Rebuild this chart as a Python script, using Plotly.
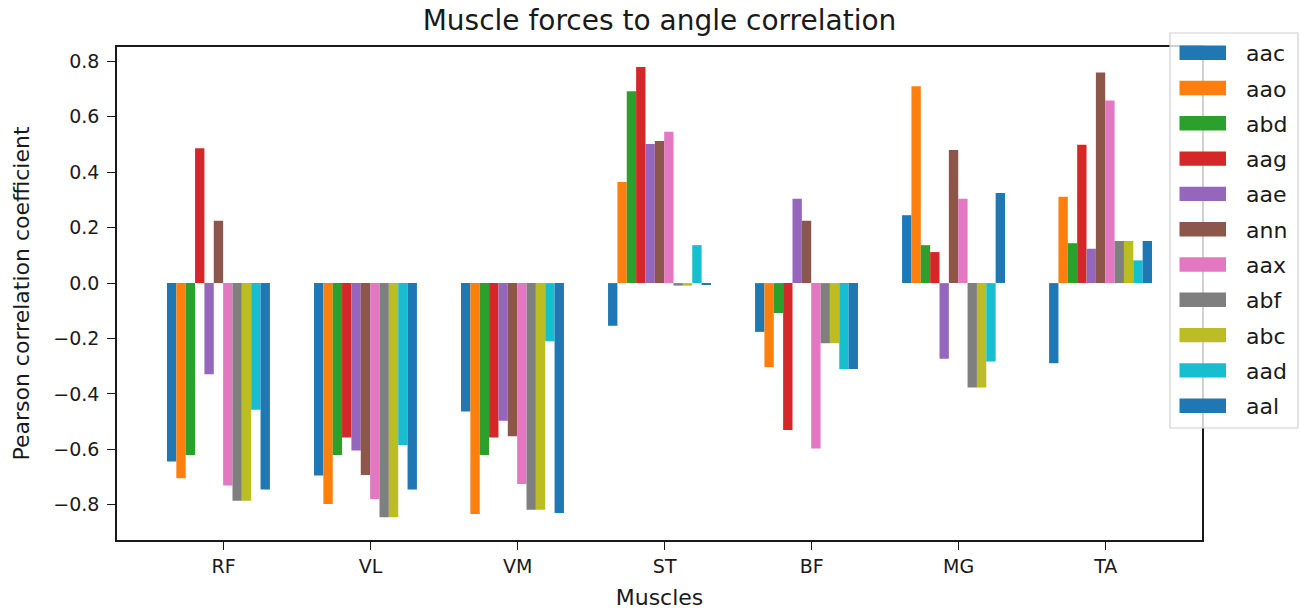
import numpy as np
import plotly.graph_objects as go

# ---------------- data ----------------
muscles = ["RF", "VL", "VM", "ST", "BF", "MG", "TA"]
series_names = ["aac", "aao", "abd", "aag", "aae", "ann", "aax", "abf", "abc", "aad", "aal"]

aac = [-0.644, -0.694, -0.463, -0.154, -0.176, 0.245, -0.289]
aao = [-0.704, -0.797, -0.833, 0.365, -0.303, 0.710, 0.312]
abd = [-0.620, -0.620, -0.620, 0.692, -0.108, 0.137, 0.144]
aag = [0.487, -0.557, -0.557, 0.780, -0.530, 0.112, 0.499]
aae = [-0.329, -0.604, -0.497, 0.502, 0.304, -0.273, 0.124]
ann = [0.225, -0.692, -0.553, 0.513, 0.225, 0.480, 0.760]
aax = [-0.730, -0.779, -0.725, 0.546, -0.597, 0.304, 0.659]
abf = [-0.785, -0.845, -0.818, -0.009, -0.217, -0.377, 0.152]
abc = [-0.785, -0.845, -0.818, -0.009, -0.217, -0.377, 0.152]
aad = [-0.457, -0.584, -0.210, 0.137, -0.310, -0.283, 0.082]
aal = [-0.745, -0.745, -0.830, -0.005, -0.310, 0.325, 0.152]

series_values = [aac, aao, abd, aag, aae, ann, aax, abf, abc, aad, aal]

y_tick_values = [0.8, 0.6, 0.4, 0.2, 0.0, -0.2, -0.4, -0.6, -0.8]
y_tick_labels = ["0.8", "0.6", "0.4", "0.2", "0.0", "\u22120.2", "\u22120.4", "\u22120.6", "\u22120.8"]

# ---------------- style ----------------
colors = ["#1f77b4", "#ff7f0e", "#2ca02c", "#d62728", "#9467bd", "#8c564b",
          "#e377c2", "#7f7f7f", "#bcbd22", "#17becf", "#1f77b4"]
FONT = "DejaVu Sans"
TXT = "#1a1a1a"

W, H = 1301, 612
L, R, T, B = 117, 1202, 47, 540   # plot area in pixels


def px_x(p):
    """pixel x -> paper coordinate"""
    return (p - L) / (R - L)


def px_y(p):
    """pixel y -> paper coordinate"""
    return (B - p) / (B - T)


x_pos = np.arange(len(muscles))

fig = go.Figure()
for name, vals, col in zip(series_names, series_values, colors):
    fig.add_trace(go.Bar(
        x=x_pos, y=vals, name=name,
        marker=dict(color=col, line=dict(width=0)),
        showlegend=False,
    ))

fig.update_layout(
    width=W, height=H,
    margin=dict(l=L, r=W - R, t=T, b=H - B, autoexpand=False),
    paper_bgcolor="white", plot_bgcolor="white",
    barmode="group", bargap=0.3, bargroupgap=0.0,
    font=dict(family=FONT, color=TXT),
    title=dict(text="Muscle forces to angle correlation",
               x=0.5, xref="paper", xanchor="center",
               y=1 - 20 / H, yref="container", yanchor="middle",
               font=dict(size=28, family=FONT, color=TXT)),
)

fig.update_xaxes(
    range=[-0.69, 6.69],
    tickmode="array", tickvals=x_pos + 0.035, ticktext=muscles,
    ticks="outside", ticklen=8, tickwidth=1.3, tickcolor=TXT,
    tickfont=dict(size=19, family=FONT, color=TXT),
    showline=True, linecolor=TXT, linewidth=1.5, mirror=True,
    showgrid=False, zeroline=False,
    title=dict(text="Muscles", font=dict(size=22, family=FONT, color=TXT), standoff=14),
)
fig.update_yaxes(
    range=[-0.927, 0.852],
    tickmode="array", tickvals=y_tick_values, ticktext=y_tick_labels,
    ticks="outside", ticklen=8, tickwidth=1.3, tickcolor=TXT,
    tickfont=dict(size=19, family=FONT, color=TXT),
    ticklabelstandoff=4,
    showline=True, linecolor=TXT, linewidth=1.5, mirror=True,
    showgrid=False, zeroline=False,
    title=dict(text="Pearson correlation coefficient",
               font=dict(size=22, family=FONT, color=TXT), standoff=18),
)

# ---------------- legend (matplotlib style, wide swatches) ----------------
leg_left, leg_right, leg_top, leg_bottom = 1170, 1298, 33, 428
fig.add_shape(type="rect", xref="paper", yref="paper",
              x0=px_x(leg_left), x1=px_x(leg_right),
              y0=px_y(leg_bottom), y1=px_y(leg_top),
              fillcolor="rgba(255,255,255,0.8)",
              line=dict(color="#d0d0d0", width=1.2), layer="above")
first_center, step = 52.7, 35.3
for k, (name, col) in enumerate(zip(series_names, colors)):
    cy = first_center + k * step
    fig.add_shape(type="rect", xref="paper", yref="paper",
                  x0=px_x(1179.5), x1=px_x(1226),
                  y0=px_y(cy + 7.2), y1=px_y(cy - 7.2),
                  fillcolor=col, line=dict(width=0), layer="above")
    fig.add_annotation(text=name, xref="paper", yref="paper",
                       x=px_x(1244), y=px_y(cy + 1), xanchor="left", yanchor="middle",
                       showarrow=False,
                       font=dict(size=22, family=FONT, color=TXT))

# remove the default page margin so the figure sits at the window's top-left corner
fig.write_html("out.html",
               config={"displayModeBar": False},
               post_script="document.body.style.margin='0';document.body.style.padding='0';")
